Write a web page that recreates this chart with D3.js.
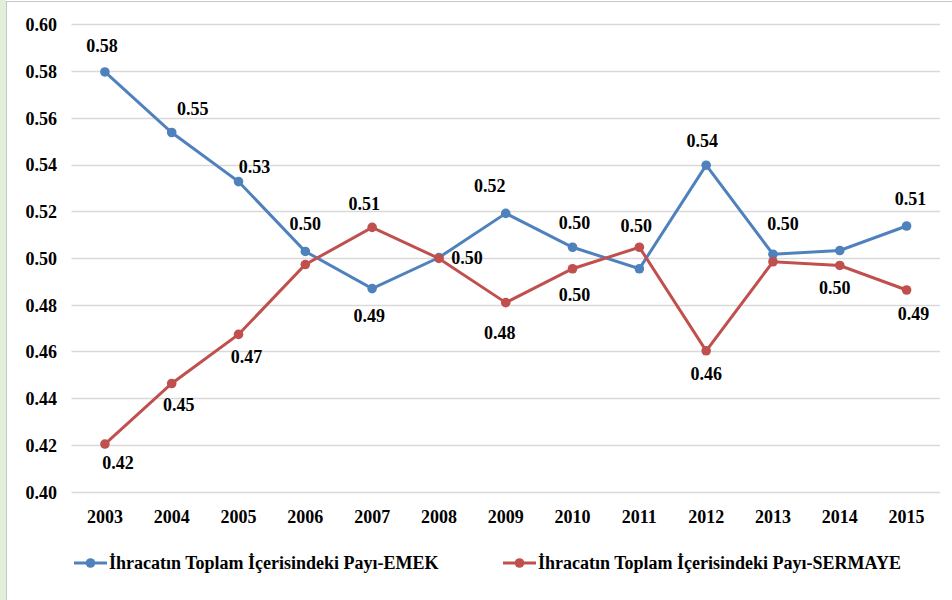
<!DOCTYPE html>
<html>
	<head>
		<meta charset="utf-8">
		<script src="https://cdn.jsdelivr.net/npm/d3@7"></script>
	</head>
	<body style="margin:0; font-family: 'Liberation Serif', serif; font-weight: bold;">
		<script>

			//Width and height
			var w = 952;
			var h = 600;

			//Data
			var years = ["2003", "2004", "2005", "2006", "2007", "2008", "2009", "2010", "2011", "2012", "2013", "2014", "2015"];
			var emek = [0.5796, 0.5537, 0.5327, 0.5028, 0.4869, 0.5002, 0.5191, 0.5046, 0.4954, 0.5397, 0.5016, 0.5032, 0.5137];
			var sermaye = [0.4204, 0.4463, 0.4673, 0.4972, 0.5131, 0.4998, 0.4809, 0.4954, 0.5046, 0.4603, 0.4984, 0.4968, 0.4863];
			var yTicks = [0.40, 0.42, 0.44, 0.46, 0.48, 0.50, 0.52, 0.54, 0.56, 0.58, 0.60];
			var seriesNames = ["İhracatın Toplam İçerisindeki Payı-EMEK", "İhracatın Toplam İçerisindeki Payı-SERMAYE"];

			//Label offsets from each point (null = no label shown)
			var emekLabelPos = [[-3, -26], [21, -24], [16, -15], [0, -28], [-3, 27], [28, 0], [-16, -28], [2, -25], null, [-4, -25], [10, -31], null, [4, -27]];
			var sermayeLabelPos = [[13, 19], [7, 21], [8, 22], null, [-8, -24], null, [-6, 30], [2, 26], [-3, -22], [0, 23], null, [-5, 22], [7, 24]];

			var colors = ["#4f81bd", "#c0504d"];

			var plotLeft = 71.5, plotRight = 940, plotTop = 24.3, plotBottom = 491.7;

			var xScale = d3.scaleBand()
							.domain(years)
							.range([plotLeft, plotRight]);

			var yScale = d3.scaleLinear()
							.domain([0.40, 0.60])
							.range([plotBottom, plotTop]);

			var svg = d3.select("body")
						.append("svg")
						.attr("width", w)
						.attr("height", h)
						.style("font-size", "18px");

			//Frame
			svg.append("rect").attr("x", 0).attr("y", 0).attr("width", 6).attr("height", h).attr("fill", "#e4efd9");
			svg.append("line").attr("x1", 6.5).attr("x2", 6.5).attr("y1", 1).attr("y2", h).attr("stroke", "#c8c8c8");
			svg.append("line").attr("x1", 6).attr("x2", w).attr("y1", 1.5).attr("y2", 1.5).attr("stroke", "#c8c8c8");

			//Gridlines
			svg.append("g")
			   .selectAll("line")
			   .data(yTicks)
			   .enter()
			   .append("line")
			   .attr("x1", plotLeft)
			   .attr("x2", plotRight)
			   .attr("y1", function(d) { return Math.round(yScale(d)) + 0.5; })
			   .attr("y2", function(d) { return Math.round(yScale(d)) + 0.5; })
			   .attr("stroke", "#d9d9d9")
			   .attr("stroke-width", 1.3);

			//Y axis labels
			var yAxis = d3.axisLeft(yScale)
							.tickValues(yTicks)
							.tickFormat(d3.format(".2f"))
							.tickSize(0)
							.tickPadding(0);

			var yG = svg.append("g")
						.attr("transform", "translate(57,0)")
						.call(yAxis);
			yG.attr("font-family", null).attr("font-size", null);
			yG.select(".domain").remove();
			yG.selectAll("text")
			  .attr("dy", "0.35em")
			  .attr("fill", "#000");

			//X axis labels
			var xAxis = d3.axisBottom(xScale)
							.tickSize(0)
							.tickPadding(0);

			var xG = svg.append("g")
						.attr("transform", "translate(0,510)")
						.call(xAxis);
			xG.attr("font-family", null).attr("font-size", null);
			xG.select(".domain").remove();
			xG.selectAll("text")
			  .attr("fill", "#000");

			//Lines
			var line = d3.line()
						.x(function(d, i) { return xScale(years[i]) + xScale.bandwidth() / 2; })
						.y(function(d) { return yScale(d); });

			var seriesList = [
				{ values: emek, labels: emekLabelPos, color: colors[0] },
				{ values: sermaye, labels: sermayeLabelPos, color: colors[1] }
			];

			seriesList.forEach(function(s) {
				var g = svg.append("g");

				g.append("path")
				 .datum(s.values)
				 .attr("d", line)
				 .attr("fill", "none")
				 .attr("stroke", s.color)
				 .attr("stroke-width", 3);

				g.selectAll("circle")
				 .data(s.values)
				 .enter()
				 .append("circle")
				 .attr("cx", function(d, i) { return xScale(years[i]) + xScale.bandwidth() / 2; })
				 .attr("cy", function(d) { return yScale(d); })
				 .attr("r", 4.8)
				 .attr("fill", s.color);
			});

			//Data labels
			seriesList.forEach(function(s) {
				var idx = d3.range(s.values.length).filter(function(i) { return s.labels[i] !== null; });
				svg.append("g")
				   .selectAll("text")
				   .data(idx)
				   .enter()
				   .append("text")
				   .attr("text-anchor", "middle")
				   .attr("x", function(i) { return xScale(years[i]) + xScale.bandwidth() / 2 + s.labels[i][0]; })
				   .attr("y", function(i) { return yScale(s.values[i]) + s.labels[i][1]; })
				   .attr("dy", "0.35em")
				   .text(function(i) { return d3.format(".2f")(s.values[i]); });
			});

			//Legend
			var legendItems = [
				{ name: seriesNames[0], color: colors[0], x: 74 },
				{ name: seriesNames[1], color: colors[1], x: 503 }
			];

			var legend = svg.append("g")
							.selectAll("g")
							.data(legendItems)
							.enter()
							.append("g")
							.attr("transform", function(d) { return "translate(" + d.x + ",563)"; });

			legend.append("line")
				  .attr("x1", 0)
				  .attr("x2", 33)
				  .attr("stroke", function(d) { return d.color; })
				  .attr("stroke-width", 3);

			legend.append("circle")
				  .attr("cx", 16.5)
				  .attr("r", 4.8)
				  .attr("fill", function(d) { return d.color; });

			legend.append("text")
				  .attr("x", 35)
				  .attr("dy", "0.35em")
				  .text(function(d) { return d.name; });

		</script>
	</body>
</html>
